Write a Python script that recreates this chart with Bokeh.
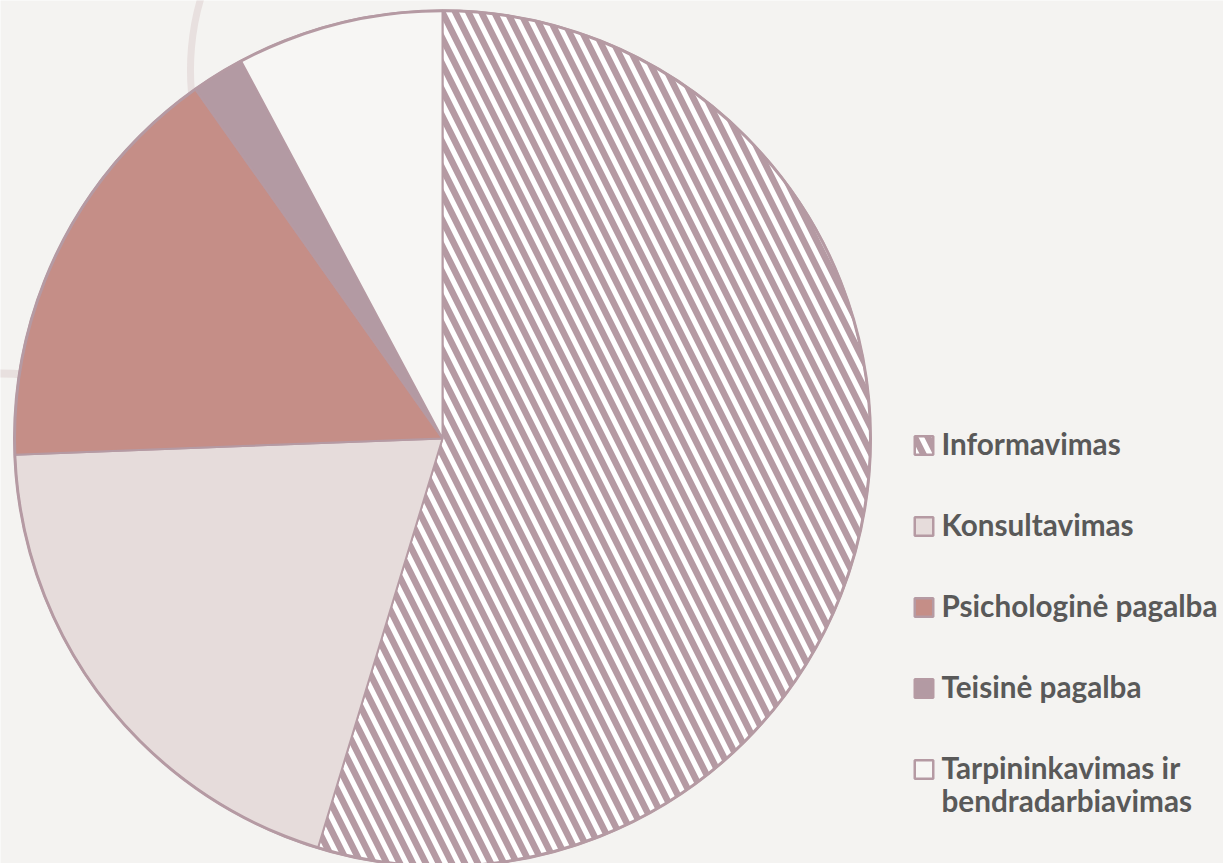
import math
from bokeh.plotting import figure
from bokeh.models import Range1d, ColumnDataSource
from bokeh.embed import file_html
from bokeh.resources import INLINE
from bokeh.core.properties import value

# ---- data ----
categories = ["Informavimas", "Konsultavimas", "Psichologinė pagalba",
              "Teisinė pagalba", "Tarpininkavimas ir\nbendradarbiavimas"]
shares = [54.7, 19.7, 15.8, 2.0, 7.8]
fill_colors = ["#ffffff", "#e6dcdb", "#c58e87", "#b39aa3", "#f7f6f4"]
hatch_patterns = ["left_diagonal_line", " ", " ", " ", " "]

# ---- style ----
W, H = 1223, 863
BG = "#f4f3f1"
EDGE = "#b59aa3"
DECOR = "#e8e0df"
TEXT = "#595959"
CX, CY, R = 442, H - 438, 428
HSCALE, HWEIGHT = 26, 6.5

p = figure(width=W, height=H, x_range=Range1d(0, W), y_range=Range1d(0, H),
           output_backend="svg", toolbar_location=None, min_border=0,
           x_axis_location=None, y_axis_location=None,
           background_fill_color=BG, border_fill_color=BG, outline_line_color=None)
p.grid.visible = False

# decorative background arcs
p.arc(x=[440], y=[H - 69], radius=250, start_angle=math.radians(150),
      end_angle=math.radians(200), line_color=DECOR, line_width=7)
p.arc(x=[0], y=[H - 373 - 300], radius=300, start_angle=math.radians(80),
      end_angle=math.radians(100), line_color=DECOR, line_width=8)

# pie
total = sum(shares)
starts, ends = [], []
cum = 0.0
for s in shares:
    starts.append(math.pi / 2 - 2 * math.pi * cum / total)
    cum += s
    ends.append(math.pi / 2 - 2 * math.pi * cum / total)

src = ColumnDataSource(dict(x=[CX] * len(shares), y=[CY] * len(shares),
                            start=starts, end=ends, fill=fill_colors,
                            hatch=hatch_patterns, cat=categories, val=shares))
p.wedge(x="x", y="y", radius=R, start_angle="start", end_angle="end",
        direction="clock", fill_color="fill", line_color=EDGE, line_width=2,
        hatch_pattern="hatch", hatch_color=EDGE, hatch_scale=HSCALE,
        hatch_weight=HWEIGHT, source=src)
p.circle(x=[CX], y=[CY], radius=R, fill_color=None, line_color=EDGE, line_width=3)

# legend
LX, LY0, STEP = 923.5, 445, 81
mx, my = [], []
tx, ty, tt = [], [], []
for i, cat in enumerate(categories):
    base = LY0 + STEP * i
    mx.append(LX)
    my.append(H - base)
    for j, line in enumerate(cat.split("\n")):
        tx.append(941)
        ty.append(H - (base - 2 + 33 * j))
        tt.append(line)

p.rect(x=mx, y=my, width=18.5, height=18.5, fill_color=fill_colors,
       line_color=EDGE, line_width=2.5, hatch_pattern=hatch_patterns,
       hatch_color=EDGE, hatch_scale=HSCALE, hatch_weight=HWEIGHT)
p.text(x=tx, y=ty, text=tt, text_font=value("Lato"), text_font_style="bold",
       text_font_size="29.7px", text_color=TEXT, text_baseline="middle",
       text_align="left")

html = file_html(p, INLINE)
html = html.replace("<body>", '<body style="margin:0;overflow:hidden;background:%s">' % BG, 1)
open("out.html", "w").write(html)
